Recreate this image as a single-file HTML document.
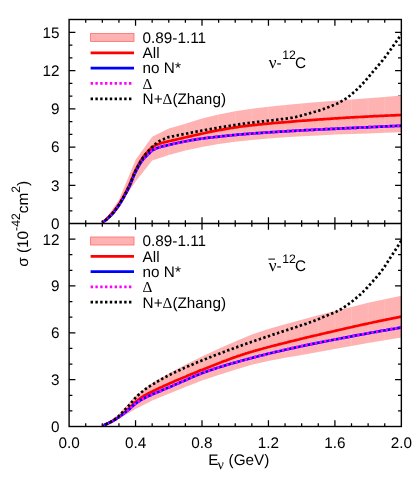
<!DOCTYPE html>
<html><head><meta charset="utf-8"><title>cross sections</title>
<style>html,body{margin:0;padding:0;background:#fff}svg{display:block}text{filter:grayscale(1)}</style></head>
<body>
<svg width="415" height="485" viewBox="0 0 415 485" font-family="'Liberation Sans', sans-serif" font-size="15.3" fill="#000" text-rendering="geometricPrecision">
<rect x="0" y="0" width="415" height="485" fill="#fff"/>
<path d="M85.71,19.5v3.3M85.71,220.2v6.6M85.71,426.5v-3.3M102.32,19.5v3.3M102.32,220.2v6.6M102.32,426.5v-3.3M118.94,19.5v3.3M118.94,220.2v6.6M118.94,426.5v-3.3M135.55,19.5v6.3M135.55,217.2v12.6M135.55,426.5v-6.3M152.16,19.5v3.3M152.16,220.2v6.6M152.16,426.5v-3.3M168.77,19.5v3.3M168.77,220.2v6.6M168.77,426.5v-3.3M185.39,19.5v3.3M185.39,220.2v6.6M185.39,426.5v-3.3M202.00,19.5v6.3M202.00,217.2v12.6M202.00,426.5v-6.3M218.61,19.5v3.3M218.61,220.2v6.6M218.61,426.5v-3.3M235.22,19.5v3.3M235.22,220.2v6.6M235.22,426.5v-3.3M251.84,19.5v3.3M251.84,220.2v6.6M251.84,426.5v-3.3M268.45,19.5v6.3M268.45,217.2v12.6M268.45,426.5v-6.3M285.06,19.5v3.3M285.06,220.2v6.6M285.06,426.5v-3.3M301.67,19.5v3.3M301.67,220.2v6.6M301.67,426.5v-3.3M318.29,19.5v3.3M318.29,220.2v6.6M318.29,426.5v-3.3M334.90,19.5v6.3M334.90,217.2v12.6M334.90,426.5v-6.3M351.51,19.5v3.3M351.51,220.2v6.6M351.51,426.5v-3.3M368.12,19.5v3.3M368.12,220.2v6.6M368.12,426.5v-3.3M384.74,19.5v3.3M384.74,220.2v6.6M384.74,426.5v-3.3M69.1,210.75h3.3M401.35,210.75h-3.3M69.1,198.00h3.3M401.35,198.00h-3.3M69.1,185.25h6.3M401.35,185.25h-6.3M69.1,172.50h3.3M401.35,172.50h-3.3M69.1,159.75h3.3M401.35,159.75h-3.3M69.1,147.00h6.3M401.35,147.00h-6.3M69.1,134.25h3.3M401.35,134.25h-3.3M69.1,121.50h3.3M401.35,121.50h-3.3M69.1,108.75h6.3M401.35,108.75h-6.3M69.1,96.00h3.3M401.35,96.00h-3.3M69.1,83.25h3.3M401.35,83.25h-3.3M69.1,70.50h6.3M401.35,70.50h-6.3M69.1,57.75h3.3M401.35,57.75h-3.3M69.1,45.00h3.3M401.35,45.00h-3.3M69.1,32.25h6.3M401.35,32.25h-6.3M69.1,410.88h3.3M401.35,410.88h-3.3M69.1,395.27h3.3M401.35,395.27h-3.3M69.1,379.65h6.3M401.35,379.65h-6.3M69.1,364.04h3.3M401.35,364.04h-3.3M69.1,348.42h3.3M401.35,348.42h-3.3M69.1,332.81h6.3M401.35,332.81h-6.3M69.1,317.19h3.3M401.35,317.19h-3.3M69.1,301.58h3.3M401.35,301.58h-3.3M69.1,285.96h6.3M401.35,285.96h-6.3M69.1,270.35h3.3M401.35,270.35h-3.3M69.1,254.73h3.3M401.35,254.73h-3.3M69.1,239.12h6.3M401.35,239.12h-6.3" stroke="#000" stroke-width="1.25" fill="none"/>
<clipPath id="ct"><rect x="69.1" y="19.5" width="332.25" height="204.0"/></clipPath>
<g clip-path="url(#ct)" fill="none" stroke-linejoin="round">
<path d="M102.3,223.5 L118.9,199.9 L135.6,159.8 L152.2,136.7 L168.8,128.5 L185.4,123.7 L202.0,118.4 L218.6,114.4 L235.2,111.3 L251.8,108.8 L268.4,106.7 L285.1,104.9 L301.7,103.4 L318.3,102.0 L334.9,100.7 L351.5,99.4 L368.1,98.2 L384.7,96.9 L401.4,95.6 L401.4,132.3 L384.7,132.8 L368.1,133.4 L351.5,134.0 L334.9,134.6 L318.3,135.4 L301.7,136.3 L285.1,137.3 L268.4,138.6 L251.8,140.0 L235.2,141.8 L218.6,144.1 L202.0,147.0 L185.4,150.6 L168.8,155.0 L152.2,160.6 L135.6,181.4 L118.9,206.5 L102.3,223.5 Z" fill="#ffb2b2" stroke="none"/>
<path d="M118.94,199.91L118.94,206.54M135.55,159.75L135.55,181.43M152.16,136.67L152.16,160.64M168.77,128.51L168.77,155.03M185.39,123.67L185.39,150.57M202.00,118.44L202.00,147.00M218.61,114.36L218.61,144.07M235.22,111.30L235.22,141.77M251.84,108.75L251.84,139.99M268.45,106.71L268.45,138.58M285.06,104.92L285.06,137.31M301.67,103.39L301.67,136.29M318.29,101.99L318.29,135.40M334.90,100.72L334.90,134.63M351.51,99.44L351.51,134.00M368.12,98.17L368.12,133.36M384.74,96.89L384.74,132.85" stroke="#fff" stroke-opacity="0.22" stroke-width="0.6"/>
<path d="M102.3,222.5 L103.6,221.6 L104.8,220.6 L106.1,219.5 L107.3,218.3 L108.6,217.1 L109.8,215.9 L111.1,214.5 L112.3,213.1 L113.6,211.6 L114.8,210.0 L116.1,208.4 L117.3,206.6 L118.6,204.8 L119.8,202.9 L121.1,200.8 L122.3,198.6 L123.6,196.4 L124.8,194.0 L126.1,191.7 L127.3,189.2 L128.6,186.5 L129.9,183.7 L131.1,180.7 L132.4,177.6 L133.6,174.4 L134.9,171.5 L136.1,169.0 L137.4,166.6 L138.6,164.3 L139.9,162.1 L141.1,160.0 L142.4,158.2 L143.6,156.4 L144.9,154.8 L146.1,153.4 L147.4,152.0 L148.6,150.6 L149.9,149.3 L151.1,148.1 L152.4,147.1 L153.6,146.3 L154.9,145.6 L156.1,145.0 L157.4,144.5 L158.6,144.0 L159.9,143.5 L161.1,143.1 L162.4,142.8 L163.6,142.5 L164.9,142.2 L166.1,141.9 L167.4,141.6 L168.6,141.3 L169.9,141.0 L171.1,140.7 L172.4,140.4 L173.6,140.1 L174.9,139.9 L176.1,139.6 L177.4,139.3 L178.6,139.0 L179.9,138.7 L181.1,138.4 L182.4,138.1 L183.6,137.8 L184.9,137.5 L186.2,137.2 L187.4,136.9 L188.7,136.6 L189.9,136.4 L191.2,136.1 L192.4,135.8 L193.7,135.5 L194.9,135.2 L196.2,134.9 L197.4,134.7 L198.7,134.4 L199.9,134.1 L201.2,133.8 L202.4,133.5 L203.7,133.3 L204.9,133.0 L206.2,132.7 L207.4,132.4 L208.7,132.2 L209.9,131.9 L211.2,131.7 L212.4,131.4 L213.7,131.2 L214.9,130.9 L216.2,130.7 L217.4,130.5 L218.7,130.2 L219.9,130.0 L221.2,129.8 L222.4,129.6 L223.7,129.3 L224.9,129.1 L226.2,128.9 L227.4,128.7 L228.7,128.5 L229.9,128.3 L231.2,128.0 L232.4,127.8 L233.7,127.6 L234.9,127.4 L236.2,127.3 L237.4,127.1 L238.7,126.9 L240.0,126.7 L241.2,126.5 L242.5,126.4 L243.7,126.2 L245.0,126.1 L246.2,125.9 L247.5,125.8 L248.7,125.6 L250.0,125.5 L251.2,125.3 L252.5,125.2 L253.7,125.1 L255.0,124.9 L256.2,124.8 L257.5,124.7 L258.7,124.5 L260.0,124.4 L261.2,124.3 L262.5,124.2 L263.7,124.0 L265.0,123.9 L266.2,123.8 L267.5,123.7 L268.7,123.6 L270.0,123.5 L271.2,123.3 L272.5,123.2 L273.7,123.1 L275.0,123.0 L276.2,122.9 L277.5,122.8 L278.7,122.7 L280.0,122.6 L281.2,122.5 L282.5,122.4 L283.7,122.3 L285.0,122.2 L286.2,122.1 L287.5,122.0 L288.7,121.9 L290.0,121.8 L291.2,121.7 L292.5,121.6 L293.8,121.4 L295.0,121.3 L296.3,121.2 L297.5,121.1 L298.8,121.0 L300.0,120.9 L301.3,120.8 L302.5,120.7 L303.8,120.6 L305.0,120.6 L306.3,120.5 L307.5,120.4 L308.8,120.3 L310.0,120.2 L311.3,120.1 L312.5,120.0 L313.8,119.9 L315.0,119.8 L316.3,119.7 L317.5,119.6 L318.8,119.5 L320.0,119.4 L321.3,119.4 L322.5,119.3 L323.8,119.2 L325.0,119.1 L326.3,119.0 L327.5,118.9 L328.8,118.8 L330.0,118.8 L331.3,118.7 L332.5,118.6 L333.8,118.5 L335.0,118.4 L336.3,118.4 L337.5,118.3 L338.8,118.2 L340.0,118.1 L341.3,118.0 L342.5,118.0 L343.8,117.9 L345.0,117.8 L346.3,117.7 L347.6,117.7 L348.8,117.6 L350.1,117.5 L351.3,117.4 L352.6,117.4 L353.8,117.3 L355.1,117.2 L356.3,117.2 L357.6,117.1 L358.8,117.0 L360.1,117.0 L361.3,116.9 L362.6,116.8 L363.8,116.8 L365.1,116.7 L366.3,116.6 L367.6,116.6 L368.8,116.5 L370.1,116.4 L371.3,116.4 L372.6,116.3 L373.8,116.2 L375.1,116.2 L376.3,116.1 L377.6,116.1 L378.8,116.0 L380.1,115.9 L381.3,115.9 L382.6,115.8 L383.8,115.8 L385.1,115.7 L386.3,115.6 L387.6,115.6 L388.8,115.5 L390.1,115.5 L391.3,115.4 L392.6,115.4 L393.8,115.3 L395.1,115.3 L396.3,115.2 L397.6,115.2 L398.8,115.1 L400.1,115.0 L401.4,115.0" stroke="#ff0000" stroke-width="2.7"/>
<path d="M102.3,222.5 L103.6,221.7 L104.8,220.8 L106.1,219.9 L107.3,218.8 L108.6,217.7 L109.8,216.5 L111.1,215.3 L112.3,214.0 L113.6,212.6 L114.8,211.0 L116.1,209.4 L117.3,207.7 L118.6,205.9 L119.8,204.0 L121.1,202.0 L122.3,199.9 L123.6,197.7 L124.8,195.4 L126.1,193.1 L127.3,190.7 L128.6,188.1 L129.9,185.4 L131.1,182.5 L132.4,179.3 L133.6,176.3 L134.9,173.4 L136.1,170.9 L137.4,168.5 L138.6,166.3 L139.9,164.1 L141.1,162.2 L142.4,160.4 L143.6,158.9 L144.9,157.5 L146.1,156.3 L147.4,155.1 L148.6,153.9 L149.9,152.7 L151.1,151.4 L152.4,150.4 L153.6,149.7 L154.9,149.1 L156.1,148.5 L157.4,148.0 L158.6,147.5 L159.9,147.1 L161.1,146.7 L162.4,146.4 L163.6,146.1 L164.9,145.8 L166.1,145.6 L167.4,145.3 L168.6,145.0 L169.9,144.7 L171.1,144.4 L172.4,144.1 L173.6,143.8 L174.9,143.5 L176.1,143.3 L177.4,143.0 L178.6,142.7 L179.9,142.5 L181.1,142.2 L182.4,142.0 L183.6,141.7 L184.9,141.5 L186.2,141.2 L187.4,141.0 L188.7,140.7 L189.9,140.5 L191.2,140.2 L192.4,140.0 L193.7,139.8 L194.9,139.6 L196.2,139.4 L197.4,139.2 L198.7,139.0 L199.9,138.8 L201.2,138.7 L202.4,138.5 L203.7,138.4 L204.9,138.2 L206.2,138.0 L207.4,137.9 L208.7,137.7 L209.9,137.6 L211.2,137.5 L212.4,137.3 L213.7,137.2 L214.9,137.0 L216.2,136.9 L217.4,136.8 L218.7,136.6 L219.9,136.5 L221.2,136.4 L222.4,136.2 L223.7,136.1 L224.9,136.0 L226.2,135.8 L227.4,135.7 L228.7,135.6 L229.9,135.5 L231.2,135.3 L232.4,135.2 L233.7,135.1 L234.9,135.0 L236.2,134.9 L237.4,134.7 L238.7,134.6 L240.0,134.5 L241.2,134.4 L242.5,134.3 L243.7,134.2 L245.0,134.1 L246.2,134.0 L247.5,133.9 L248.7,133.8 L250.0,133.7 L251.2,133.6 L252.5,133.5 L253.7,133.4 L255.0,133.3 L256.2,133.2 L257.5,133.2 L258.7,133.1 L260.0,133.0 L261.2,132.9 L262.5,132.8 L263.7,132.7 L265.0,132.6 L266.2,132.5 L267.5,132.5 L268.7,132.4 L270.0,132.3 L271.2,132.2 L272.5,132.1 L273.7,132.1 L275.0,132.0 L276.2,131.9 L277.5,131.8 L278.7,131.7 L280.0,131.7 L281.2,131.6 L282.5,131.5 L283.7,131.4 L285.0,131.4 L286.2,131.3 L287.5,131.2 L288.7,131.2 L290.0,131.1 L291.2,131.0 L292.5,130.9 L293.8,130.9 L295.0,130.8 L296.3,130.7 L297.5,130.6 L298.8,130.6 L300.0,130.5 L301.3,130.4 L302.5,130.4 L303.8,130.3 L305.0,130.2 L306.3,130.2 L307.5,130.1 L308.8,130.0 L310.0,130.0 L311.3,129.9 L312.5,129.9 L313.8,129.8 L315.0,129.7 L316.3,129.7 L317.5,129.6 L318.8,129.5 L320.0,129.5 L321.3,129.4 L322.5,129.4 L323.8,129.3 L325.0,129.2 L326.3,129.2 L327.5,129.1 L328.8,129.1 L330.0,129.0 L331.3,128.9 L332.5,128.9 L333.8,128.8 L335.0,128.8 L336.3,128.7 L337.5,128.6 L338.8,128.6 L340.0,128.5 L341.3,128.5 L342.5,128.4 L343.8,128.3 L345.0,128.3 L346.3,128.2 L347.6,128.2 L348.8,128.1 L350.1,128.1 L351.3,128.0 L352.6,127.9 L353.8,127.9 L355.1,127.8 L356.3,127.8 L357.6,127.7 L358.8,127.7 L360.1,127.6 L361.3,127.5 L362.6,127.5 L363.8,127.4 L365.1,127.4 L366.3,127.3 L367.6,127.3 L368.8,127.2 L370.1,127.1 L371.3,127.1 L372.6,127.0 L373.8,127.0 L375.1,126.9 L376.3,126.9 L377.6,126.8 L378.8,126.7 L380.1,126.7 L381.3,126.6 L382.6,126.6 L383.8,126.5 L385.1,126.5 L386.3,126.4 L387.6,126.3 L388.8,126.3 L390.1,126.2 L391.3,126.2 L392.6,126.1 L393.8,126.1 L395.1,126.0 L396.3,125.9 L397.6,125.9 L398.8,125.8 L400.1,125.8 L401.4,125.7" stroke="#0000ff" stroke-width="2.7"/>
<path d="M102.3,222.5 L103.6,221.7 L104.8,220.8 L106.1,219.9 L107.3,218.8 L108.6,217.7 L109.8,216.5 L111.1,215.3 L112.3,214.0 L113.6,212.6 L114.8,211.0 L116.1,209.4 L117.3,207.7 L118.6,205.9 L119.8,204.0 L121.1,202.0 L122.3,199.9 L123.6,197.7 L124.8,195.4 L126.1,193.1 L127.3,190.7 L128.6,188.1 L129.9,185.4 L131.1,182.5 L132.4,179.3 L133.6,176.3 L134.9,173.4 L136.1,170.9 L137.4,168.5 L138.6,166.3 L139.9,164.1 L141.1,162.2 L142.4,160.4 L143.6,158.9 L144.9,157.5 L146.1,156.3 L147.4,155.1 L148.6,153.9 L149.9,152.7 L151.1,151.4 L152.4,150.4 L153.6,149.7 L154.9,149.1 L156.1,148.5 L157.4,148.0 L158.6,147.5 L159.9,147.1 L161.1,146.7 L162.4,146.4 L163.6,146.1 L164.9,145.8 L166.1,145.6 L167.4,145.3 L168.6,145.0 L169.9,144.7 L171.1,144.4 L172.4,144.1 L173.6,143.8 L174.9,143.5 L176.1,143.3 L177.4,143.0 L178.6,142.7 L179.9,142.5 L181.1,142.2 L182.4,142.0 L183.6,141.7 L184.9,141.5 L186.2,141.2 L187.4,141.0 L188.7,140.7 L189.9,140.5 L191.2,140.2 L192.4,140.0 L193.7,139.8 L194.9,139.6 L196.2,139.4 L197.4,139.2 L198.7,139.0 L199.9,138.8 L201.2,138.7 L202.4,138.5 L203.7,138.4 L204.9,138.2 L206.2,138.0 L207.4,137.9 L208.7,137.7 L209.9,137.6 L211.2,137.5 L212.4,137.3 L213.7,137.2 L214.9,137.0 L216.2,136.9 L217.4,136.8 L218.7,136.6 L219.9,136.5 L221.2,136.4 L222.4,136.2 L223.7,136.1 L224.9,136.0 L226.2,135.8 L227.4,135.7 L228.7,135.6 L229.9,135.5 L231.2,135.3 L232.4,135.2 L233.7,135.1 L234.9,135.0 L236.2,134.9 L237.4,134.7 L238.7,134.6 L240.0,134.5 L241.2,134.4 L242.5,134.3 L243.7,134.2 L245.0,134.1 L246.2,134.0 L247.5,133.9 L248.7,133.8 L250.0,133.7 L251.2,133.6 L252.5,133.5 L253.7,133.4 L255.0,133.3 L256.2,133.2 L257.5,133.2 L258.7,133.1 L260.0,133.0 L261.2,132.9 L262.5,132.8 L263.7,132.7 L265.0,132.6 L266.2,132.5 L267.5,132.5 L268.7,132.4 L270.0,132.3 L271.2,132.2 L272.5,132.1 L273.7,132.1 L275.0,132.0 L276.2,131.9 L277.5,131.8 L278.7,131.7 L280.0,131.7 L281.2,131.6 L282.5,131.5 L283.7,131.4 L285.0,131.4 L286.2,131.3 L287.5,131.2 L288.7,131.2 L290.0,131.1 L291.2,131.0 L292.5,130.9 L293.8,130.9 L295.0,130.8 L296.3,130.7 L297.5,130.6 L298.8,130.6 L300.0,130.5 L301.3,130.4 L302.5,130.4 L303.8,130.3 L305.0,130.2 L306.3,130.2 L307.5,130.1 L308.8,130.0 L310.0,130.0 L311.3,129.9 L312.5,129.9 L313.8,129.8 L315.0,129.7 L316.3,129.7 L317.5,129.6 L318.8,129.5 L320.0,129.5 L321.3,129.4 L322.5,129.4 L323.8,129.3 L325.0,129.2 L326.3,129.2 L327.5,129.1 L328.8,129.1 L330.0,129.0 L331.3,128.9 L332.5,128.9 L333.8,128.8 L335.0,128.8 L336.3,128.7 L337.5,128.6 L338.8,128.6 L340.0,128.5 L341.3,128.5 L342.5,128.4 L343.8,128.3 L345.0,128.3 L346.3,128.2 L347.6,128.2 L348.8,128.1 L350.1,128.1 L351.3,128.0 L352.6,127.9 L353.8,127.9 L355.1,127.8 L356.3,127.8 L357.6,127.7 L358.8,127.7 L360.1,127.6 L361.3,127.5 L362.6,127.5 L363.8,127.4 L365.1,127.4 L366.3,127.3 L367.6,127.3 L368.8,127.2 L370.1,127.1 L371.3,127.1 L372.6,127.0 L373.8,127.0 L375.1,126.9 L376.3,126.9 L377.6,126.8 L378.8,126.7 L380.1,126.7 L381.3,126.6 L382.6,126.6 L383.8,126.5 L385.1,126.5 L386.3,126.4 L387.6,126.3 L388.8,126.3 L390.1,126.2 L391.3,126.2 L392.6,126.1 L393.8,126.1 L395.1,126.0 L396.3,125.9 L397.6,125.9 L398.8,125.8 L400.1,125.8 L401.4,125.7" stroke="#ff00ff" stroke-width="2.7" stroke-dasharray="2.4 2.4"/>
<path d="M102.3,222.5 L103.6,221.6 L104.8,220.7 L106.1,219.7 L107.3,218.6 L108.6,217.4 L109.8,216.2 L111.1,214.9 L112.3,213.6 L113.6,212.1 L114.8,210.5 L116.1,208.8 L117.3,207.1 L118.6,205.3 L119.8,203.4 L121.1,201.3 L122.3,199.2 L123.6,197.0 L124.8,194.7 L126.1,192.3 L127.3,189.8 L128.6,187.3 L129.9,184.5 L131.1,181.5 L132.4,178.4 L133.6,175.4 L134.9,172.5 L136.1,169.8 L137.4,167.4 L138.6,165.0 L139.9,162.7 L141.1,160.6 L142.4,158.6 L143.6,156.8 L144.9,155.1 L146.1,153.5 L147.4,152.1 L148.6,150.6 L149.9,149.3 L151.1,148.0 L152.4,146.8 L153.6,145.7 L154.9,144.5 L156.1,143.5 L157.4,142.5 L158.6,141.6 L159.9,140.8 L161.1,140.2 L162.4,139.7 L163.6,139.2 L164.9,138.6 L166.1,138.0 L167.4,137.5 L168.6,137.1 L169.9,136.8 L171.1,136.6 L172.4,136.3 L173.6,136.1 L174.9,135.8 L176.1,135.6 L177.4,135.4 L178.6,135.1 L179.9,134.9 L181.1,134.7 L182.4,134.4 L183.6,134.2 L184.9,134.0 L186.2,133.7 L187.4,133.5 L188.7,133.2 L189.9,132.9 L191.2,132.7 L192.4,132.4 L193.7,132.2 L194.9,131.9 L196.2,131.7 L197.4,131.4 L198.7,131.2 L199.9,131.0 L201.2,130.7 L202.4,130.5 L203.7,130.3 L204.9,130.0 L206.2,129.8 L207.4,129.6 L208.7,129.4 L209.9,129.2 L211.2,128.9 L212.4,128.7 L213.7,128.5 L214.9,128.3 L216.2,128.1 L217.4,127.9 L218.7,127.7 L219.9,127.4 L221.2,127.2 L222.4,127.0 L223.7,126.8 L224.9,126.6 L226.2,126.4 L227.4,126.2 L228.7,126.0 L229.9,125.8 L231.2,125.6 L232.4,125.4 L233.7,125.2 L234.9,125.0 L236.2,124.8 L237.4,124.6 L238.7,124.4 L240.0,124.2 L241.2,124.0 L242.5,123.9 L243.7,123.7 L245.0,123.5 L246.2,123.3 L247.5,123.2 L248.7,123.0 L250.0,122.8 L251.2,122.7 L252.5,122.5 L253.7,122.4 L255.0,122.2 L256.2,122.1 L257.5,121.9 L258.7,121.8 L260.0,121.7 L261.2,121.5 L262.5,121.4 L263.7,121.3 L265.0,121.1 L266.2,121.0 L267.5,120.8 L268.7,120.7 L270.0,120.6 L271.2,120.4 L272.5,120.3 L273.7,120.2 L275.0,120.0 L276.2,119.9 L277.5,119.7 L278.7,119.6 L280.0,119.4 L281.2,119.2 L282.5,119.1 L283.7,118.9 L285.0,118.7 L286.2,118.6 L287.5,118.4 L288.7,118.2 L290.0,118.0 L291.2,117.8 L292.5,117.6 L293.8,117.3 L295.0,117.1 L296.3,116.9 L297.5,116.6 L298.8,116.3 L300.0,116.0 L301.3,115.6 L302.5,115.3 L303.8,114.9 L305.0,114.5 L306.3,114.2 L307.5,113.8 L308.8,113.4 L310.0,113.1 L311.3,112.7 L312.5,112.4 L313.8,112.0 L315.0,111.7 L316.3,111.3 L317.5,110.9 L318.8,110.6 L320.0,110.2 L321.3,109.8 L322.5,109.4 L323.8,108.9 L325.0,108.5 L326.3,108.1 L327.5,107.6 L328.8,107.1 L330.0,106.6 L331.3,106.2 L332.5,105.6 L333.8,105.1 L335.0,104.6 L336.3,104.0 L337.5,103.4 L338.8,102.8 L340.0,102.1 L341.3,101.4 L342.5,100.7 L343.8,99.9 L345.0,99.1 L346.3,98.3 L347.6,97.4 L348.8,96.5 L350.1,95.5 L351.3,94.5 L352.6,93.4 L353.8,92.3 L355.1,91.2 L356.3,90.0 L357.6,88.9 L358.8,87.6 L360.1,86.4 L361.3,85.1 L362.6,83.8 L363.8,82.5 L365.1,81.1 L366.3,79.6 L367.6,78.2 L368.8,76.7 L370.1,75.1 L371.3,73.6 L372.6,72.1 L373.8,70.7 L375.1,69.2 L376.3,67.8 L377.6,66.4 L378.8,64.9 L380.1,63.5 L381.3,61.9 L382.6,60.4 L383.8,58.7 L385.1,57.1 L386.3,55.4 L387.6,53.7 L388.8,52.0 L390.1,50.3 L391.3,48.6 L392.6,46.8 L393.8,45.1 L395.1,43.3 L396.3,41.5 L397.6,39.7 L398.8,37.9 L400.1,36.0 L401.4,34.2" stroke="#000" stroke-width="2.7" stroke-dasharray="2.4 2.4" stroke-dashoffset="0.9"/>
</g>
<clipPath id="cb"><rect x="69.1" y="223.5" width="332.25" height="203.0"/></clipPath>
<g clip-path="url(#cb)" fill="none" stroke-linejoin="round">
<path d="M102.3,426.5 L118.9,414.0 L135.6,395.7 L152.2,382.9 L168.8,373.4 L185.4,364.8 L202.0,356.5 L218.6,348.7 L235.2,341.4 L251.8,334.4 L268.4,328.9 L285.1,324.2 L301.7,319.8 L318.3,315.3 L334.9,310.9 L351.5,306.9 L368.1,302.8 L384.7,299.2 L401.4,295.8 L401.4,337.6 L384.7,340.3 L368.1,343.0 L351.5,345.9 L334.9,348.9 L318.3,351.9 L301.7,355.0 L285.1,357.8 L268.4,360.9 L251.8,364.8 L235.2,369.7 L218.6,375.0 L202.0,380.6 L185.4,387.0 L168.8,393.7 L152.2,400.6 L135.6,408.9 L118.9,418.7 L102.3,426.5 Z" fill="#ffb2b2" stroke="none"/>
<path d="M118.94,414.01L118.94,418.69M135.55,395.74L135.55,408.85M152.16,382.93L152.16,400.58M168.77,373.41L168.77,393.71M185.39,364.82L185.39,386.99M202.00,356.54L202.00,380.59M218.61,348.74L218.61,374.97M235.22,341.40L235.22,369.66M251.84,334.37L251.84,364.82M268.45,328.90L268.45,360.92M285.06,324.22L285.06,357.79M301.67,319.85L301.67,354.98M318.29,315.32L318.29,351.86M334.90,310.95L334.90,348.89M351.51,306.89L351.51,345.92M368.12,302.83L368.12,342.96M384.74,299.23L384.74,340.30" stroke="#fff" stroke-opacity="0.22" stroke-width="0.6"/>
<path d="M102.3,426.0 L103.6,425.4 L104.8,424.8 L106.1,424.2 L107.3,423.6 L108.6,423.0 L109.8,422.4 L111.1,421.8 L112.3,421.1 L113.6,420.4 L114.8,419.7 L116.1,418.8 L117.3,418.0 L118.6,417.1 L119.8,416.1 L121.1,415.2 L122.3,414.2 L123.6,413.1 L124.8,412.1 L126.1,411.0 L127.3,409.9 L128.6,408.7 L129.9,407.6 L131.1,406.3 L132.4,405.1 L133.6,403.8 L134.9,402.6 L136.1,401.5 L137.4,400.5 L138.6,399.5 L139.9,398.6 L141.1,397.7 L142.4,396.8 L143.6,396.0 L144.9,395.3 L146.1,394.6 L147.4,393.9 L148.6,393.3 L149.9,392.7 L151.1,392.0 L152.4,391.4 L153.6,390.8 L154.9,390.2 L156.1,389.6 L157.4,389.0 L158.6,388.4 L159.9,387.8 L161.1,387.3 L162.4,386.7 L163.6,386.1 L164.9,385.6 L166.1,385.0 L167.4,384.4 L168.6,383.9 L169.9,383.3 L171.1,382.8 L172.4,382.2 L173.6,381.7 L174.9,381.1 L176.1,380.6 L177.4,380.1 L178.6,379.5 L179.9,379.0 L181.1,378.5 L182.4,378.0 L183.6,377.4 L184.9,376.9 L186.2,376.4 L187.4,375.8 L188.7,375.3 L189.9,374.8 L191.2,374.2 L192.4,373.7 L193.7,373.2 L194.9,372.7 L196.2,372.2 L197.4,371.7 L198.7,371.1 L199.9,370.6 L201.2,370.1 L202.4,369.7 L203.7,369.2 L204.9,368.7 L206.2,368.2 L207.4,367.7 L208.7,367.2 L209.9,366.7 L211.2,366.2 L212.4,365.7 L213.7,365.2 L214.9,364.7 L216.2,364.2 L217.4,363.7 L218.7,363.3 L219.9,362.8 L221.2,362.3 L222.4,361.8 L223.7,361.3 L224.9,360.9 L226.2,360.4 L227.4,359.9 L228.7,359.5 L229.9,359.0 L231.2,358.5 L232.4,358.1 L233.7,357.6 L234.9,357.2 L236.2,356.8 L237.4,356.3 L238.7,355.9 L240.0,355.5 L241.2,355.0 L242.5,354.6 L243.7,354.2 L245.0,353.8 L246.2,353.4 L247.5,353.0 L248.7,352.6 L250.0,352.3 L251.2,351.9 L252.5,351.5 L253.7,351.1 L255.0,350.8 L256.2,350.4 L257.5,350.1 L258.7,349.7 L260.0,349.4 L261.2,349.0 L262.5,348.7 L263.7,348.3 L265.0,348.0 L266.2,347.7 L267.5,347.3 L268.7,347.0 L270.0,346.7 L271.2,346.3 L272.5,346.0 L273.7,345.7 L275.0,345.4 L276.2,345.1 L277.5,344.8 L278.7,344.4 L280.0,344.1 L281.2,343.8 L282.5,343.5 L283.7,343.2 L285.0,342.9 L286.2,342.6 L287.5,342.3 L288.7,341.9 L290.0,341.6 L291.2,341.3 L292.5,341.0 L293.8,340.7 L295.0,340.4 L296.3,340.1 L297.5,339.8 L298.8,339.5 L300.0,339.1 L301.3,338.8 L302.5,338.5 L303.8,338.2 L305.0,337.9 L306.3,337.6 L307.5,337.3 L308.8,337.0 L310.0,336.7 L311.3,336.4 L312.5,336.1 L313.8,335.8 L315.0,335.5 L316.3,335.3 L317.5,335.0 L318.8,334.7 L320.0,334.4 L321.3,334.1 L322.5,333.8 L323.8,333.5 L325.0,333.2 L326.3,332.9 L327.5,332.6 L328.8,332.3 L330.0,332.1 L331.3,331.8 L332.5,331.5 L333.8,331.2 L335.0,330.9 L336.3,330.6 L337.5,330.3 L338.8,330.0 L340.0,329.7 L341.3,329.5 L342.5,329.2 L343.8,328.9 L345.0,328.6 L346.3,328.3 L347.6,328.0 L348.8,327.7 L350.1,327.5 L351.3,327.2 L352.6,326.9 L353.8,326.6 L355.1,326.3 L356.3,326.0 L357.6,325.8 L358.8,325.5 L360.1,325.2 L361.3,324.9 L362.6,324.7 L363.8,324.4 L365.1,324.1 L366.3,323.8 L367.6,323.6 L368.8,323.3 L370.1,323.0 L371.3,322.8 L372.6,322.5 L373.8,322.2 L375.1,322.0 L376.3,321.7 L377.6,321.4 L378.8,321.2 L380.1,320.9 L381.3,320.6 L382.6,320.4 L383.8,320.1 L385.1,319.9 L386.3,319.6 L387.6,319.3 L388.8,319.1 L390.1,318.8 L391.3,318.6 L392.6,318.3 L393.8,318.1 L395.1,317.8 L396.3,317.6 L397.6,317.3 L398.8,317.1 L400.1,316.8 L401.4,316.6" stroke="#ff0000" stroke-width="2.7"/>
<path d="M102.3,426.0 L103.6,425.4 L104.8,424.8 L106.1,424.2 L107.3,423.6 L108.6,423.0 L109.8,422.4 L111.1,421.9 L112.3,421.2 L113.6,420.6 L114.8,419.9 L116.1,419.1 L117.3,418.2 L118.6,417.4 L119.8,416.5 L121.1,415.6 L122.3,414.7 L123.6,413.7 L124.8,412.7 L126.1,411.8 L127.3,410.8 L128.6,409.7 L129.9,408.7 L131.1,407.5 L132.4,406.4 L133.6,405.2 L134.9,404.1 L136.1,403.1 L137.4,402.3 L138.6,401.4 L139.9,400.7 L141.1,399.9 L142.4,399.2 L143.6,398.5 L144.9,397.9 L146.1,397.2 L147.4,396.6 L148.6,396.1 L149.9,395.5 L151.1,395.0 L152.4,394.4 L153.6,393.8 L154.9,393.3 L156.1,392.8 L157.4,392.2 L158.6,391.7 L159.9,391.2 L161.1,390.7 L162.4,390.1 L163.6,389.6 L164.9,389.1 L166.1,388.6 L167.4,388.0 L168.6,387.5 L169.9,387.0 L171.1,386.4 L172.4,385.9 L173.6,385.3 L174.9,384.8 L176.1,384.2 L177.4,383.7 L178.6,383.2 L179.9,382.6 L181.1,382.1 L182.4,381.5 L183.6,381.0 L184.9,380.4 L186.2,379.9 L187.4,379.3 L188.7,378.7 L189.9,378.2 L191.2,377.6 L192.4,377.1 L193.7,376.5 L194.9,376.0 L196.2,375.4 L197.4,374.9 L198.7,374.4 L199.9,373.9 L201.2,373.4 L202.4,372.9 L203.7,372.5 L204.9,372.0 L206.2,371.6 L207.4,371.2 L208.7,370.7 L209.9,370.3 L211.2,369.9 L212.4,369.5 L213.7,369.0 L214.9,368.6 L216.2,368.2 L217.4,367.8 L218.7,367.4 L219.9,367.0 L221.2,366.6 L222.4,366.3 L223.7,365.9 L224.9,365.5 L226.2,365.1 L227.4,364.7 L228.7,364.4 L229.9,364.0 L231.2,363.6 L232.4,363.3 L233.7,362.9 L234.9,362.6 L236.2,362.2 L237.4,361.9 L238.7,361.5 L240.0,361.2 L241.2,360.8 L242.5,360.5 L243.7,360.1 L245.0,359.8 L246.2,359.4 L247.5,359.1 L248.7,358.8 L250.0,358.4 L251.2,358.1 L252.5,357.8 L253.7,357.4 L255.0,357.1 L256.2,356.8 L257.5,356.5 L258.7,356.1 L260.0,355.8 L261.2,355.5 L262.5,355.2 L263.7,354.9 L265.0,354.6 L266.2,354.2 L267.5,353.9 L268.7,353.6 L270.0,353.3 L271.2,353.0 L272.5,352.7 L273.7,352.4 L275.0,352.1 L276.2,351.8 L277.5,351.5 L278.7,351.3 L280.0,351.0 L281.2,350.7 L282.5,350.4 L283.7,350.1 L285.0,349.8 L286.2,349.5 L287.5,349.2 L288.7,349.0 L290.0,348.7 L291.2,348.4 L292.5,348.1 L293.8,347.9 L295.0,347.6 L296.3,347.3 L297.5,347.0 L298.8,346.8 L300.0,346.5 L301.3,346.2 L302.5,346.0 L303.8,345.7 L305.0,345.4 L306.3,345.2 L307.5,344.9 L308.8,344.7 L310.0,344.4 L311.3,344.2 L312.5,343.9 L313.8,343.7 L315.0,343.4 L316.3,343.2 L317.5,342.9 L318.8,342.7 L320.0,342.4 L321.3,342.2 L322.5,341.9 L323.8,341.7 L325.0,341.4 L326.3,341.2 L327.5,341.0 L328.8,340.7 L330.0,340.5 L331.3,340.2 L332.5,340.0 L333.8,339.7 L335.0,339.5 L336.3,339.3 L337.5,339.0 L338.8,338.8 L340.0,338.5 L341.3,338.3 L342.5,338.0 L343.8,337.8 L345.0,337.6 L346.3,337.3 L347.6,337.1 L348.8,336.9 L350.1,336.6 L351.3,336.4 L352.6,336.1 L353.8,335.9 L355.1,335.7 L356.3,335.4 L357.6,335.2 L358.8,335.0 L360.1,334.7 L361.3,334.5 L362.6,334.3 L363.8,334.1 L365.1,333.8 L366.3,333.6 L367.6,333.4 L368.8,333.2 L370.1,332.9 L371.3,332.7 L372.6,332.5 L373.8,332.3 L375.1,332.0 L376.3,331.8 L377.6,331.6 L378.8,331.4 L380.1,331.1 L381.3,330.9 L382.6,330.7 L383.8,330.5 L385.1,330.3 L386.3,330.1 L387.6,329.8 L388.8,329.6 L390.1,329.4 L391.3,329.2 L392.6,329.0 L393.8,328.8 L395.1,328.6 L396.3,328.3 L397.6,328.1 L398.8,327.9 L400.1,327.7 L401.4,327.5" stroke="#0000ff" stroke-width="2.7"/>
<path d="M102.3,426.0 L103.6,425.4 L104.8,424.8 L106.1,424.2 L107.3,423.6 L108.6,423.0 L109.8,422.4 L111.1,421.9 L112.3,421.2 L113.6,420.6 L114.8,419.9 L116.1,419.1 L117.3,418.2 L118.6,417.4 L119.8,416.5 L121.1,415.6 L122.3,414.7 L123.6,413.7 L124.8,412.7 L126.1,411.8 L127.3,410.8 L128.6,409.7 L129.9,408.7 L131.1,407.5 L132.4,406.4 L133.6,405.2 L134.9,404.1 L136.1,403.1 L137.4,402.3 L138.6,401.4 L139.9,400.7 L141.1,399.9 L142.4,399.2 L143.6,398.5 L144.9,397.9 L146.1,397.2 L147.4,396.6 L148.6,396.1 L149.9,395.5 L151.1,395.0 L152.4,394.4 L153.6,393.8 L154.9,393.3 L156.1,392.8 L157.4,392.2 L158.6,391.7 L159.9,391.2 L161.1,390.7 L162.4,390.1 L163.6,389.6 L164.9,389.1 L166.1,388.6 L167.4,388.0 L168.6,387.5 L169.9,387.0 L171.1,386.4 L172.4,385.9 L173.6,385.3 L174.9,384.8 L176.1,384.2 L177.4,383.7 L178.6,383.2 L179.9,382.6 L181.1,382.1 L182.4,381.5 L183.6,381.0 L184.9,380.4 L186.2,379.9 L187.4,379.3 L188.7,378.7 L189.9,378.2 L191.2,377.6 L192.4,377.1 L193.7,376.5 L194.9,376.0 L196.2,375.4 L197.4,374.9 L198.7,374.4 L199.9,373.9 L201.2,373.4 L202.4,372.9 L203.7,372.5 L204.9,372.0 L206.2,371.6 L207.4,371.2 L208.7,370.7 L209.9,370.3 L211.2,369.9 L212.4,369.5 L213.7,369.0 L214.9,368.6 L216.2,368.2 L217.4,367.8 L218.7,367.4 L219.9,367.0 L221.2,366.6 L222.4,366.3 L223.7,365.9 L224.9,365.5 L226.2,365.1 L227.4,364.7 L228.7,364.4 L229.9,364.0 L231.2,363.6 L232.4,363.3 L233.7,362.9 L234.9,362.6 L236.2,362.2 L237.4,361.9 L238.7,361.5 L240.0,361.2 L241.2,360.8 L242.5,360.5 L243.7,360.1 L245.0,359.8 L246.2,359.4 L247.5,359.1 L248.7,358.8 L250.0,358.4 L251.2,358.1 L252.5,357.8 L253.7,357.4 L255.0,357.1 L256.2,356.8 L257.5,356.5 L258.7,356.1 L260.0,355.8 L261.2,355.5 L262.5,355.2 L263.7,354.9 L265.0,354.6 L266.2,354.2 L267.5,353.9 L268.7,353.6 L270.0,353.3 L271.2,353.0 L272.5,352.7 L273.7,352.4 L275.0,352.1 L276.2,351.8 L277.5,351.5 L278.7,351.3 L280.0,351.0 L281.2,350.7 L282.5,350.4 L283.7,350.1 L285.0,349.8 L286.2,349.5 L287.5,349.2 L288.7,349.0 L290.0,348.7 L291.2,348.4 L292.5,348.1 L293.8,347.9 L295.0,347.6 L296.3,347.3 L297.5,347.0 L298.8,346.8 L300.0,346.5 L301.3,346.2 L302.5,346.0 L303.8,345.7 L305.0,345.4 L306.3,345.2 L307.5,344.9 L308.8,344.7 L310.0,344.4 L311.3,344.2 L312.5,343.9 L313.8,343.7 L315.0,343.4 L316.3,343.2 L317.5,342.9 L318.8,342.7 L320.0,342.4 L321.3,342.2 L322.5,341.9 L323.8,341.7 L325.0,341.4 L326.3,341.2 L327.5,341.0 L328.8,340.7 L330.0,340.5 L331.3,340.2 L332.5,340.0 L333.8,339.7 L335.0,339.5 L336.3,339.3 L337.5,339.0 L338.8,338.8 L340.0,338.5 L341.3,338.3 L342.5,338.0 L343.8,337.8 L345.0,337.6 L346.3,337.3 L347.6,337.1 L348.8,336.9 L350.1,336.6 L351.3,336.4 L352.6,336.1 L353.8,335.9 L355.1,335.7 L356.3,335.4 L357.6,335.2 L358.8,335.0 L360.1,334.7 L361.3,334.5 L362.6,334.3 L363.8,334.1 L365.1,333.8 L366.3,333.6 L367.6,333.4 L368.8,333.2 L370.1,332.9 L371.3,332.7 L372.6,332.5 L373.8,332.3 L375.1,332.0 L376.3,331.8 L377.6,331.6 L378.8,331.4 L380.1,331.1 L381.3,330.9 L382.6,330.7 L383.8,330.5 L385.1,330.3 L386.3,330.1 L387.6,329.8 L388.8,329.6 L390.1,329.4 L391.3,329.2 L392.6,329.0 L393.8,328.8 L395.1,328.6 L396.3,328.3 L397.6,328.1 L398.8,327.9 L400.1,327.7 L401.4,327.5" stroke="#ff00ff" stroke-width="2.7" stroke-dasharray="2.4 2.4"/>
<path d="M102.3,426.0 L103.6,425.5 L104.8,424.9 L106.1,424.2 L107.3,423.6 L108.6,423.0 L109.8,422.4 L111.1,421.7 L112.3,421.0 L113.6,420.3 L114.8,419.4 L116.1,418.4 L117.3,417.3 L118.6,416.2 L119.8,415.0 L121.1,413.8 L122.3,412.5 L123.6,411.1 L124.8,409.8 L126.1,408.5 L127.3,407.2 L128.6,405.8 L129.9,404.4 L131.1,403.0 L132.4,401.4 L133.6,399.9 L134.9,398.5 L136.1,397.2 L137.4,396.0 L138.6,394.8 L139.9,393.6 L141.1,392.5 L142.4,391.5 L143.6,390.5 L144.9,389.5 L146.1,388.6 L147.4,387.7 L148.6,386.9 L149.9,386.1 L151.1,385.3 L152.4,384.5 L153.6,383.8 L154.9,383.0 L156.1,382.2 L157.4,381.5 L158.6,380.8 L159.9,380.1 L161.1,379.4 L162.4,378.7 L163.6,378.0 L164.9,377.3 L166.1,376.7 L167.4,376.0 L168.6,375.4 L169.9,374.8 L171.1,374.1 L172.4,373.5 L173.6,372.9 L174.9,372.3 L176.1,371.7 L177.4,371.2 L178.6,370.6 L179.9,370.0 L181.1,369.5 L182.4,368.9 L183.6,368.3 L184.9,367.8 L186.2,367.2 L187.4,366.6 L188.7,366.1 L189.9,365.5 L191.2,365.0 L192.4,364.5 L193.7,363.9 L194.9,363.4 L196.2,362.9 L197.4,362.3 L198.7,361.8 L199.9,361.3 L201.2,360.8 L202.4,360.3 L203.7,359.8 L204.9,359.3 L206.2,358.8 L207.4,358.3 L208.7,357.8 L209.9,357.3 L211.2,356.8 L212.4,356.3 L213.7,355.8 L214.9,355.3 L216.2,354.9 L217.4,354.4 L218.7,353.9 L219.9,353.4 L221.2,352.9 L222.4,352.5 L223.7,352.0 L224.9,351.5 L226.2,351.1 L227.4,350.6 L228.7,350.1 L229.9,349.7 L231.2,349.2 L232.4,348.8 L233.7,348.3 L234.9,347.8 L236.2,347.4 L237.4,346.9 L238.7,346.5 L240.0,346.0 L241.2,345.6 L242.5,345.1 L243.7,344.7 L245.0,344.2 L246.2,343.8 L247.5,343.4 L248.7,342.9 L250.0,342.5 L251.2,342.0 L252.5,341.6 L253.7,341.2 L255.0,340.7 L256.2,340.3 L257.5,339.9 L258.7,339.4 L260.0,339.0 L261.2,338.6 L262.5,338.2 L263.7,337.8 L265.0,337.3 L266.2,336.9 L267.5,336.5 L268.7,336.1 L270.0,335.7 L271.2,335.3 L272.5,334.8 L273.7,334.4 L275.0,334.0 L276.2,333.6 L277.5,333.2 L278.7,332.8 L280.0,332.4 L281.2,332.0 L282.5,331.5 L283.7,331.1 L285.0,330.7 L286.2,330.3 L287.5,329.9 L288.7,329.5 L290.0,329.1 L291.2,328.7 L292.5,328.2 L293.8,327.8 L295.0,327.4 L296.3,327.0 L297.5,326.6 L298.8,326.2 L300.0,325.8 L301.3,325.3 L302.5,324.9 L303.8,324.5 L305.0,324.1 L306.3,323.7 L307.5,323.2 L308.8,322.8 L310.0,322.3 L311.3,321.9 L312.5,321.4 L313.8,320.9 L315.0,320.4 L316.3,319.9 L317.5,319.4 L318.8,318.9 L320.0,318.4 L321.3,317.8 L322.5,317.3 L323.8,316.8 L325.0,316.3 L326.3,315.8 L327.5,315.3 L328.8,314.8 L330.0,314.3 L331.3,313.8 L332.5,313.3 L333.8,312.8 L335.0,312.2 L336.3,311.7 L337.5,311.0 L338.8,310.4 L340.0,309.7 L341.3,309.0 L342.5,308.2 L343.8,307.4 L345.0,306.6 L346.3,305.7 L347.6,304.8 L348.8,303.9 L350.1,303.0 L351.3,302.0 L352.6,301.0 L353.8,300.0 L355.1,299.0 L356.3,297.9 L357.6,296.9 L358.8,295.8 L360.1,294.7 L361.3,293.5 L362.6,292.3 L363.8,291.1 L365.1,289.9 L366.3,288.5 L367.6,287.2 L368.8,285.8 L370.1,284.4 L371.3,282.9 L372.6,281.5 L373.8,280.1 L375.1,278.7 L376.3,277.3 L377.6,275.8 L378.8,274.4 L380.1,272.8 L381.3,271.2 L382.6,269.5 L383.8,267.7 L385.1,265.9 L386.3,263.9 L387.6,262.0 L388.8,260.0 L390.1,258.1 L391.3,256.2 L392.6,254.3 L393.8,252.4 L395.1,250.4 L396.3,248.5 L397.6,246.6 L398.8,244.6 L400.1,242.6 L401.4,240.7" stroke="#000" stroke-width="2.7" stroke-dasharray="2.4 2.4" stroke-dashoffset="0.9"/>
</g>
<g stroke="#000" stroke-width="1.4" fill="none" stroke-linecap="butt">
<rect x="69.1" y="19.5" width="332.25" height="407.0"/>
<line x1="69.1" y1="223.5" x2="401.35" y2="223.5" stroke-width="1.3"/>
</g>
<g text-anchor="end">
<text x="59.6" y="228.9">0</text>
<text x="59.6" y="190.7">3</text>
<text x="59.6" y="152.4">6</text>
<text x="59.6" y="114.2">9</text>
<text x="59.6" y="75.9">12</text>
<text x="59.6" y="37.6">15</text>
<text x="59.6" y="431.9">0</text>
<text x="59.6" y="385.1">3</text>
<text x="59.6" y="338.2">6</text>
<text x="59.6" y="291.4">9</text>
<text x="59.6" y="244.5">12</text>
</g>
<g text-anchor="middle">
<text x="69.1" y="448">0.0</text>
<text x="135.6" y="448">0.4</text>
<text x="202.0" y="448">0.8</text>
<text x="268.4" y="448">1.2</text>
<text x="334.9" y="448">1.6</text>
<text x="401.4" y="448">2.0</text>
</g>
<text x="208.3" y="465">E</text>
<text x="217.6" y="468.6" font-family="'Liberation Serif', serif" font-size="14">ν</text>
<text x="228.6" y="465">(GeV)</text>
<text transform="translate(28.0,266.7) rotate(-90)">σ (10<tspan font-size="12.24" dy="-7.6">-42</tspan><tspan dy="7.6">cm</tspan><tspan font-size="12.24" dy="-7.6">2</tspan><tspan dy="7.6">)</tspan></text>
<rect x="90.6" y="33.4" width="43.4" height="8" fill="#ffb2b2" stroke="#ff6a6a" stroke-width="0.8"/>
<line x1="90.6" x2="134" y1="52.8" y2="52.8" stroke="#ff0000" stroke-width="2.7"/>
<line x1="90.6" x2="134" y1="68.1" y2="68.1" stroke="#0000ff" stroke-width="2.7"/>
<line x1="90.6" x2="133.5" y1="83.4" y2="83.4" stroke="#ff00ff" stroke-width="2.7" stroke-dasharray="2.4 2.4"/>
<line x1="90.6" x2="133.5" y1="98.8" y2="98.8" stroke="#000" stroke-width="2.7" stroke-dasharray="2.4 2.4"/>
<text x="142.6" y="42.7">0.89-1.11</text>
<text x="142.6" y="58.0">All</text>
<text x="142.6" y="73.4">no N*</text>
<text x="142.6" y="88.7"><tspan font-family="'Liberation Serif', serif">Δ</tspan></text>
<text x="142.6" y="104.1">N+<tspan font-family="'Liberation Serif', serif">Δ</tspan>(Zhang)</text>
<rect x="90.6" y="237.0" width="43.4" height="8" fill="#ffb2b2" stroke="#ff6a6a" stroke-width="0.8"/>
<line x1="90.6" x2="134" y1="256.3" y2="256.3" stroke="#ff0000" stroke-width="2.7"/>
<line x1="90.6" x2="134" y1="271.6" y2="271.6" stroke="#0000ff" stroke-width="2.7"/>
<line x1="90.6" x2="133.5" y1="286.9" y2="286.9" stroke="#ff00ff" stroke-width="2.7" stroke-dasharray="2.4 2.4"/>
<line x1="90.6" x2="133.5" y1="302.2" y2="302.2" stroke="#000" stroke-width="2.7" stroke-dasharray="2.4 2.4"/>
<text x="142.6" y="246.3">0.89-1.11</text>
<text x="142.6" y="261.6">All</text>
<text x="142.6" y="276.9">no N*</text>
<text x="142.6" y="292.2"><tspan font-family="'Liberation Serif', serif">Δ</tspan></text>
<text x="142.6" y="307.5">N+<tspan font-family="'Liberation Serif', serif">Δ</tspan>(Zhang)</text>
<text x="268.7" y="67.6" font-family="'Liberation Serif', serif" font-size="17.2">ν</text>
<text x="276.4" y="67.6">-</text>
<text x="282.3" y="59.2" font-size="12.24">12</text>
<text x="295.0" y="67.6">C</text>
<text x="268.7" y="271.0" font-family="'Liberation Serif', serif" font-size="17.2">ν</text>
<text x="276.4" y="271.0">-</text>
<text x="282.3" y="262.8" font-size="12.24">12</text>
<text x="295.0" y="271.0">C</text>
<line x1="268.3" x2="275" y1="259.1" y2="259.1" stroke="#000" stroke-width="1"/>
</svg>
</body></html>
